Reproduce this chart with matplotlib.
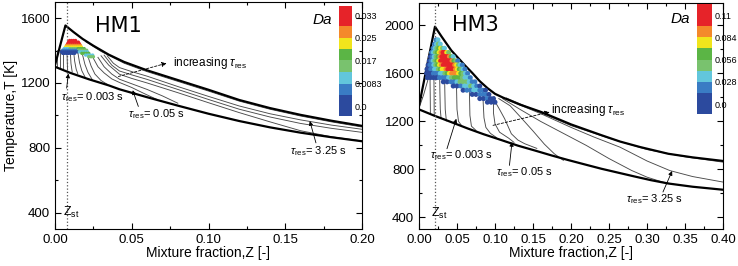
import matplotlib.pyplot as plt
from matplotlib.colors import ListedColormap, BoundaryNorm
from matplotlib.cm import ScalarMappable
from matplotlib.ticker import MultipleLocator, FormatStrFormatter

plt.rcParams['font.family'] = ['Liberation Sans', 'DejaVu Sans']
plt.rcParams['mathtext.fontset'] = 'custom'
plt.rcParams['mathtext.rm'] = 'Liberation Sans'
plt.rcParams['mathtext.it'] = 'Liberation Sans:italic'

# Da colour classes, low -> high
da_colors = ['#2c4a9e', '#3a7cc4', '#62c6dc', '#79c26e', '#5bb545',
             '#f1e51c', '#f4892b', '#e62329']

hm1_da_bounds = [-0.0035, 0.0042, 0.0083, 0.0125, 0.0167, 0.0208, 0.025, 0.0292, 0.0365]
hm1_da_ticks = [0.0, 0.0083, 0.0167, 0.025, 0.033]
hm1_da_labels = ['0.0', '0.0083', '0.017', '0.025', '0.033']
hm3_da_bounds = [-0.0125, 0.014, 0.028, 0.042, 0.056, 0.070, 0.084, 0.098, 0.126]
hm3_da_ticks = [0.0, 0.028, 0.056, 0.084, 0.112]
hm3_da_labels = ['0.0', '0.028', '0.056', '0.084', '0.11']

# ---- HM1 ----
hm1_zst = 0.0075
hm1_upper_z = [0.0, 0.0068, 0.012, 0.018, 0.025, 0.035, 0.045, 0.06, 0.08, 0.10,
               0.12, 0.14, 0.16, 0.18, 0.2]
hm1_upper_t = [1310, 1555, 1515, 1472, 1430, 1375, 1330, 1278, 1218, 1158,
               1095, 1045, 1003, 967, 935]
hm1_lower_z = [0.0, 0.01, 0.022, 0.035, 0.042, 0.06, 0.08, 0.10, 0.12, 0.14, 0.16, 0.18, 0.2]
hm1_lower_t = [1300, 1262, 1223, 1185, 1161, 1112, 1060, 1010, 965, 926, 893, 865, 840]

hm1_gray_z = [
    [0.0015, 0.0016],
    [0.0035, 0.0036],
    [0.0055, 0.0056],
    [0.0078, 0.0080, 0.0082],
    [0.0100, 0.0104, 0.0112],
    [0.0122, 0.0128, 0.0138, 0.0148],
    [0.0150, 0.0160, 0.0175, 0.0195],
    [0.0180, 0.0195, 0.0215, 0.0245],
    [0.0215, 0.0235, 0.026, 0.030, 0.034],
    [0.025, 0.028, 0.032, 0.037, 0.042, 0.05, 0.058, 0.066],
    [0.028, 0.032, 0.037, 0.042, 0.05, 0.06, 0.07, 0.08],
    [0.030, 0.035, 0.042, 0.05, 0.06, 0.08, 0.10, 0.12, 0.14, 0.16, 0.18, 0.2],
    [0.032, 0.037, 0.042, 0.05, 0.06, 0.08, 0.10, 0.12, 0.14, 0.16, 0.18, 0.2],
    [0.034, 0.038, 0.042, 0.05, 0.06, 0.08, 0.10, 0.12, 0.14, 0.16, 0.18, 0.2],
    [0.02, 0.03, 0.045, 0.06, 0.08, 0.10, 0.12, 0.14, 0.16, 0.18, 0.2],
]
hm1_gray_t = [
    [1400, 1296],
    [1402, 1290],
    [1398, 1285],
    [1395, 1330, 1278],
    [1392, 1320, 1268],
    [1390, 1335, 1285, 1258],
    [1382, 1325, 1275, 1238],
    [1372, 1315, 1265, 1217],
    [1362, 1305, 1255, 1215, 1192],
    [1352, 1300, 1262, 1225, 1203, 1172, 1135, 1100],
    [1358, 1300, 1255, 1223, 1195, 1160, 1120, 1075],
    [1368, 1310, 1254, 1228, 1200, 1140, 1078, 1017, 960, 905, 868, 842],
    [1372, 1310, 1274, 1250, 1222, 1160, 1098, 1038, 990, 950, 920, 895],
    [1368, 1322, 1295, 1270, 1242, 1178, 1117, 1058, 1010, 972, 940, 914],
    [1455, 1395, 1322, 1270, 1210, 1150, 1088, 1038, 996, 960, 928],
]

hm1_scatter_t = [1462, 1452, 1442, 1432, 1422, 1412, 1412, 1412,
                 1402, 1402, 1392, 1392, 1383, 1383, 1372, 1362]
hm1_scatter_z = [
    [0.0095, 0.0108, 0.0121, 0.0134],
    [0.0088, 0.0100, 0.0113, 0.0126, 0.0139, 0.0152],
    [0.0082, 0.0094, 0.0107, 0.0120, 0.0133, 0.0146, 0.0159],
    [0.0075, 0.0088, 0.0101, 0.0114, 0.0127, 0.0140, 0.0153, 0.0166],
    [0.0068, 0.0081, 0.0094, 0.0107, 0.0120, 0.0133, 0.0146, 0.0159, 0.0172],
    [0.0060, 0.0073, 0.0086],
    [0.0099, 0.0112, 0.0125, 0.0138],
    [0.0151, 0.0164, 0.0177, 0.0190],
    [0.0050, 0.0063, 0.0076, 0.0089, 0.0102, 0.0115, 0.0128, 0.0141],
    [0.0154, 0.0167, 0.0180, 0.0193, 0.0206],
    [0.0042, 0.0055, 0.0068, 0.0081, 0.0094, 0.0107, 0.0120, 0.0133, 0.0146],
    [0.0159, 0.0172, 0.0185, 0.0198, 0.0211],
    [0.0050, 0.0063, 0.0076, 0.0089, 0.0102, 0.0115, 0.0128],
    [0.0175, 0.0190, 0.0205, 0.0220],
    [0.0200, 0.0215, 0.0230, 0.0245],
    [0.0220, 0.0235, 0.0250],
]
hm1_scatter_da = [0.033, 0.033, 0.031, 0.027, 0.023, 0.010, 0.015, 0.019,
                  0.006, 0.015, 0.001, 0.011, 0.001, 0.018, 0.010, 0.014]

# ---- HM3 ----
hm3_zst = 0.021
hm3_upper_z = [0.0, 0.021, 0.03, 0.0425, 0.05, 0.0605, 0.07, 0.08, 0.09, 0.1, 0.11,
               0.133, 0.161, 0.2, 0.24, 0.2645, 0.291, 0.328, 0.36, 0.4]
hm3_upper_t = [1330, 1990, 1905, 1792, 1740, 1667, 1605, 1535, 1478, 1430, 1400,
               1340, 1278, 1175, 1085, 1032, 986, 930, 900, 870]
hm3_lower_z = [0.0, 0.02, 0.04, 0.0645, 0.085, 0.108, 0.13, 0.152, 0.175, 0.196,
               0.22, 0.24, 0.265, 0.284, 0.305, 0.328, 0.36, 0.4]
hm3_lower_t = [1300, 1248, 1200, 1140, 1093, 1045, 998, 958, 915, 878,
               838, 805, 768, 740, 710, 682, 655, 630]

hm3_gray_z = [
    [0.0, 0.006, 0.011, 0.0135, 0.0145, 0.0148, 0.0150],
    [0.0195, 0.0198, 0.0200],
    [0.0270, 0.0275, 0.0280, 0.0290],
    [0.0335, 0.0340, 0.0345, 0.0360],
    [0.0490, 0.0495, 0.0500, 0.0520, 0.0560],
    [0.0660, 0.0665, 0.0670, 0.0690, 0.0750],
    [0.0840, 0.0845, 0.0855, 0.0880, 0.0940, 0.1020],
    [0.0990, 0.0980, 0.0980, 0.1000, 0.1060, 0.1180, 0.1250],
    [0.0996, 0.1060, 0.1127, 0.1215, 0.1300, 0.1390, 0.1550],
    [0.1050, 0.1200, 0.1330, 0.1500, 0.1650, 0.1780, 0.1900],
    [0.110, 0.133, 0.16, 0.19, 0.22, 0.25, 0.28, 0.30, 0.32, 0.335],
    [0.120, 0.16, 0.20, 0.23, 0.2645, 0.28, 0.30, 0.33, 0.36, 0.40],
    [0.115, 0.15, 0.20, 0.25, 0.30, 0.35, 0.40],
]
hm3_gray_t = [
    [1310, 1420, 1530, 1590, 1560, 1400, 1258],
    [1650, 1450, 1248],
    [1660, 1450, 1300, 1230],
    [1640, 1450, 1300, 1205],
    [1590, 1450, 1300, 1200, 1165],
    [1510, 1400, 1250, 1160, 1125],
    [1450, 1350, 1230, 1150, 1100, 1065],
    [1405, 1350, 1270, 1180, 1110, 1060, 1025],
    [1370, 1300, 1222, 1097, 1045, 1014, 975],
    [1390, 1330, 1240, 1120, 1010, 930, 875],
    [1390, 1300, 1200, 1100, 1000, 890, 790, 735, 695, 675],
    [1370, 1265, 1150, 1070, 985, 935, 870, 790, 740, 694],
    [1395, 1300, 1165, 1060, 965, 905, 860],
]

hm3_scatter_t = [1880, 1845, 1810, 1775, 1740, 1705, 1670, 1635, 1600, 1565,
                 1530, 1495, 1460, 1425, 1390, 1360]
hm3_scatter_z = [
    [0.0225, 0.0250],
    [0.0205, 0.0230, 0.0255, 0.0280],
    [0.0185, 0.0210, 0.0235, 0.0260, 0.0285, 0.0310, 0.0335],
    [0.0165, 0.0190, 0.0215, 0.0240, 0.0265, 0.0290, 0.0315, 0.0340, 0.0365, 0.0390],
    [0.0150, 0.0175, 0.0200, 0.0225, 0.0250, 0.0275, 0.0300, 0.0325, 0.0350, 0.0375,
     0.0400, 0.0425, 0.0450],
    [0.0135, 0.0160, 0.0185, 0.0210, 0.0235, 0.0260, 0.0285, 0.0310, 0.0335, 0.0360,
     0.0385, 0.0410, 0.0435, 0.0460, 0.0485, 0.0510],
    [0.0120, 0.0145, 0.0170, 0.0195, 0.0220, 0.0245, 0.0270, 0.0295, 0.0320, 0.0345,
     0.0370, 0.0395, 0.0420, 0.0445, 0.0470, 0.0495, 0.0520, 0.0545, 0.0570],
    [0.0105, 0.0130, 0.0155, 0.0180, 0.0205, 0.0230, 0.0255, 0.0280, 0.0305, 0.0330,
     0.0355, 0.0380, 0.0405, 0.0430, 0.0455, 0.0480, 0.0505, 0.0530, 0.0555, 0.0580,
     0.0605],
    [0.0100, 0.0130, 0.0160, 0.0190, 0.0220, 0.0250, 0.0280, 0.0310, 0.0340, 0.0370,
     0.0400, 0.0430, 0.0460, 0.0490, 0.0520, 0.0550, 0.0580, 0.0610, 0.0640],
    [0.0110, 0.0150, 0.0190, 0.0230, 0.0270, 0.0310, 0.0350, 0.0390, 0.0430, 0.0465,
     0.0500, 0.0535, 0.0570, 0.0605, 0.0640, 0.0675],
    [0.0320, 0.0370, 0.0420, 0.0460, 0.0500, 0.0540, 0.0580, 0.0620, 0.0660, 0.0700,
     0.0735],
    [0.0450, 0.0500, 0.0550, 0.0600, 0.0640, 0.0680, 0.0720, 0.0760, 0.0800],
    [0.0580, 0.0630, 0.0680, 0.0720, 0.0760, 0.0800, 0.0840, 0.0875],
    [0.0700, 0.0750, 0.0800, 0.0840, 0.0880, 0.0920],
    [0.0800, 0.0850, 0.0900, 0.0940, 0.0980],
    [0.0900, 0.0950, 0.1000],
]
hm3_scatter_da = [
    [0.021, 0.035],
    [0.021, 0.035, 0.049, 0.035],
    [0.021, 0.035, 0.049, 0.063, 0.077, 0.049, 0.035],
    [0.021, 0.035, 0.049, 0.063, 0.077, 0.091, 0.11, 0.11, 0.077, 0.049],
    [0.0, 0.021, 0.035, 0.049, 0.063, 0.091, 0.11, 0.11, 0.11, 0.11, 0.091, 0.063, 0.035],
    [0.0, 0.021, 0.035, 0.049, 0.063, 0.077, 0.11, 0.11, 0.11, 0.11, 0.11, 0.11, 0.091,
     0.063, 0.049, 0.021],
    [0.0, 0.021, 0.021, 0.035, 0.049, 0.063, 0.077, 0.091, 0.11, 0.11, 0.11, 0.11, 0.11,
     0.11, 0.091, 0.077, 0.049, 0.035, 0.021],
    [0.0, 0.0, 0.021, 0.021, 0.035, 0.035, 0.049, 0.063, 0.077, 0.077, 0.091, 0.11, 0.11,
     0.11, 0.11, 0.091, 0.077, 0.063, 0.049, 0.035, 0.021],
    [0.0, 0.0, 0.0, 0.021, 0.021, 0.021, 0.035, 0.035, 0.049, 0.063, 0.077, 0.091, 0.091,
     0.091, 0.077, 0.063, 0.049, 0.035, 0.021],
    [0.0, 0.0, 0.0, 0.0, 0.021, 0.021, 0.021, 0.035, 0.049, 0.063, 0.063, 0.063, 0.049,
     0.035, 0.035, 0.021],
    [0.0, 0.0, 0.021, 0.021, 0.035, 0.049, 0.049, 0.049, 0.035, 0.021, 0.021],
    [0.0, 0.0, 0.021, 0.035, 0.035, 0.049, 0.035, 0.021, 0.0],
    [0.0, 0.021, 0.021, 0.035, 0.035, 0.021, 0.021, 0.0],
    [0.0, 0.0, 0.021, 0.021, 0.021, 0.0],
    [0.0, 0.0, 0.021, 0.0, 0.0],
    [0.0, 0.0, 0.0],
]

cmap = ListedColormap(da_colors)


def draw_panel(ax, upper_z, upper_t, lower_z, lower_t, gray_z, gray_t, zst,
               sc_z, sc_t, sc_da, norm, msize):
    for gz, gt in zip(gray_z, gray_t):
        ax.plot(gz, gt, color='#4a4a4a', lw=0.65)
    ax.plot(upper_z, upper_t, color='k', lw=1.6)
    ax.plot(lower_z, lower_t, color='k', lw=1.6)
    ax.axvline(zst, color='#555555', ls=':', lw=0.9)
    ax.scatter(sc_z, sc_t, c=sc_da, cmap=cmap, norm=norm, s=msize,
               linewidths=0, zorder=5)
    ax.tick_params(which='both', direction='in', top=True, right=True,
                   labelsize=9.5, width=0.8)
    ax.tick_params(which='major', length=4)
    ax.tick_params(which='minor', length=2.5)
    ax.xaxis.set_major_locator(MultipleLocator(0.05))
    ax.xaxis.set_minor_locator(MultipleLocator(0.025))
    ax.xaxis.set_major_formatter(FormatStrFormatter('%.2f'))
    ax.yaxis.set_major_locator(MultipleLocator(400))
    ax.yaxis.set_minor_locator(MultipleLocator(200))
    ax.set_xlabel('Mixture fraction,Z [-]', fontsize=10)
    ax.xaxis.set_label_coords(0.5, -0.075)


def tau_note(ax, pos, tail, tip, label):
    ax.text(pos[0], pos[1], r'$\tau_{\rm res}$' + label, fontsize=8,
            ha='left', va='center')
    ax.annotate('', xy=tip, xytext=tail,
                arrowprops=dict(arrowstyle='-|>', lw=0.6, color='k',
                                mutation_scale=6, shrinkA=0, shrinkB=0))


def increasing_note(ax, pos, tail, tip):
    ax.text(pos[0], pos[1], r'increasing $\tau_{\rm res}$', fontsize=8.5,
            ha='left', va='center')
    ax.annotate('', xy=tip, xytext=tail,
                arrowprops=dict(arrowstyle='-|>', lw=0.6, color='k', ls=(0, (3, 2)),
                                mutation_scale=7, shrinkA=0, shrinkB=0))


fig = plt.figure(figsize=(7.38, 2.66), dpi=100)

# left panel
ax1 = fig.add_axes([55 / 738, 37.3 / 266, 307 / 738, 226.7 / 266])
norm1 = BoundaryNorm(hm1_da_bounds, cmap.N)
z1, t1, d1 = [], [], []
for t, zs, da in zip(hm1_scatter_t, hm1_scatter_z, hm1_scatter_da):
    z1 += zs
    t1 += [t] * len(zs)
    d1 += [da] * len(zs)
draw_panel(ax1, hm1_upper_z, hm1_upper_t, hm1_lower_z, hm1_lower_t,
           hm1_gray_z, hm1_gray_t, hm1_zst, z1, t1, d1, norm1, 6)
ax1.set_xlim(0, 0.2)
ax1.set_ylim(300, 1700)
ax1.set_ylabel('Temperature,T [K]', fontsize=10)
ax1.yaxis.set_label_coords(-0.12, 0.5)
ax1.text(0.208, 0.896, 'HM1', transform=ax1.transAxes, fontsize=15,
         family='DejaVu Sans', ha='center', va='center')
ax1.text(0.87, 0.92, 'Da', transform=ax1.transAxes, fontsize=11,
         style='italic', ha='center', va='center')
ax1.text(0.0050, 400, r'Z$_{\rm st}$', fontsize=9, ha='left', va='center')
tau_note(ax1, (0.0042, 1110), (0.0076, 1168), (0.0087, 1258), '= 0.003 s')
tau_note(ax1, (0.0475, 1005), (0.0543, 1055), (0.0506, 1155), '= 0.05 s')
tau_note(ax1, (0.153, 780), (0.170, 830), (0.166, 965), '= 3.25 s')
increasing_note(ax1, (0.077, 1326), (0.0413, 1240), (0.0727, 1322))

# right panel
ax2 = fig.add_axes([419 / 738, 36.7 / 266, 304 / 738, 226.6 / 266])
norm3 = BoundaryNorm(hm3_da_bounds, cmap.N)
z3, t3, d3 = [], [], []
for t, zs, das in zip(hm3_scatter_t, hm3_scatter_z, hm3_scatter_da):
    z3 += zs
    t3 += [t] * len(zs)
    d3 += das
draw_panel(ax2, hm3_upper_z, hm3_upper_t, hm3_lower_z, hm3_lower_t,
           hm3_gray_z, hm3_gray_t, hm3_zst, z3, t3, d3, norm3, 13)
ax2.set_xlim(0, 0.4)
ax2.set_ylim(300, 2190)
ax2.text(0.186, 0.90, 'HM3', transform=ax2.transAxes, fontsize=15,
         family='DejaVu Sans', ha='center', va='center')
ax2.text(0.859, 0.928, 'Da', transform=ax2.transAxes, fontsize=11,
         style='italic', ha='center', va='center')
ax2.text(0.0158, 433, r'Z$_{\rm st}$', fontsize=9, ha='left', va='center')
tau_note(ax2, (0.0141, 917), (0.0368, 972), (0.0491, 1222), '= 0.003 s')
tau_note(ax2, (0.1017, 778), (0.119, 833), (0.1224, 1028), '= 0.05 s')
tau_note(ax2, (0.2728, 556), (0.321, 611), (0.333, 786), '= 3.25 s')
increasing_note(ax2, (0.174, 1292), (0.0974, 1167), (0.172, 1278))

# colour bars
for rect, norm, ticks, labels in [
        ([339 / 738, 150 / 266, 13 / 738, 110 / 266], norm1, hm1_da_ticks, hm1_da_labels),
        ([697 / 738, 152 / 266, 15 / 738, 110 / 266], norm3, hm3_da_ticks, hm3_da_labels)]:
    cax = fig.add_axes(rect)
    cb = fig.colorbar(ScalarMappable(norm=norm, cmap=cmap), cax=cax,
                      spacing='proportional', ticks=ticks)
    cb.set_ticklabels(labels)
    cb.minorticks_off()
    cb.outline.set_visible(False)
    cax.tick_params(which='both', length=0, labelsize=6.5, pad=2)

fig.savefig('out.png', dpi=100)
